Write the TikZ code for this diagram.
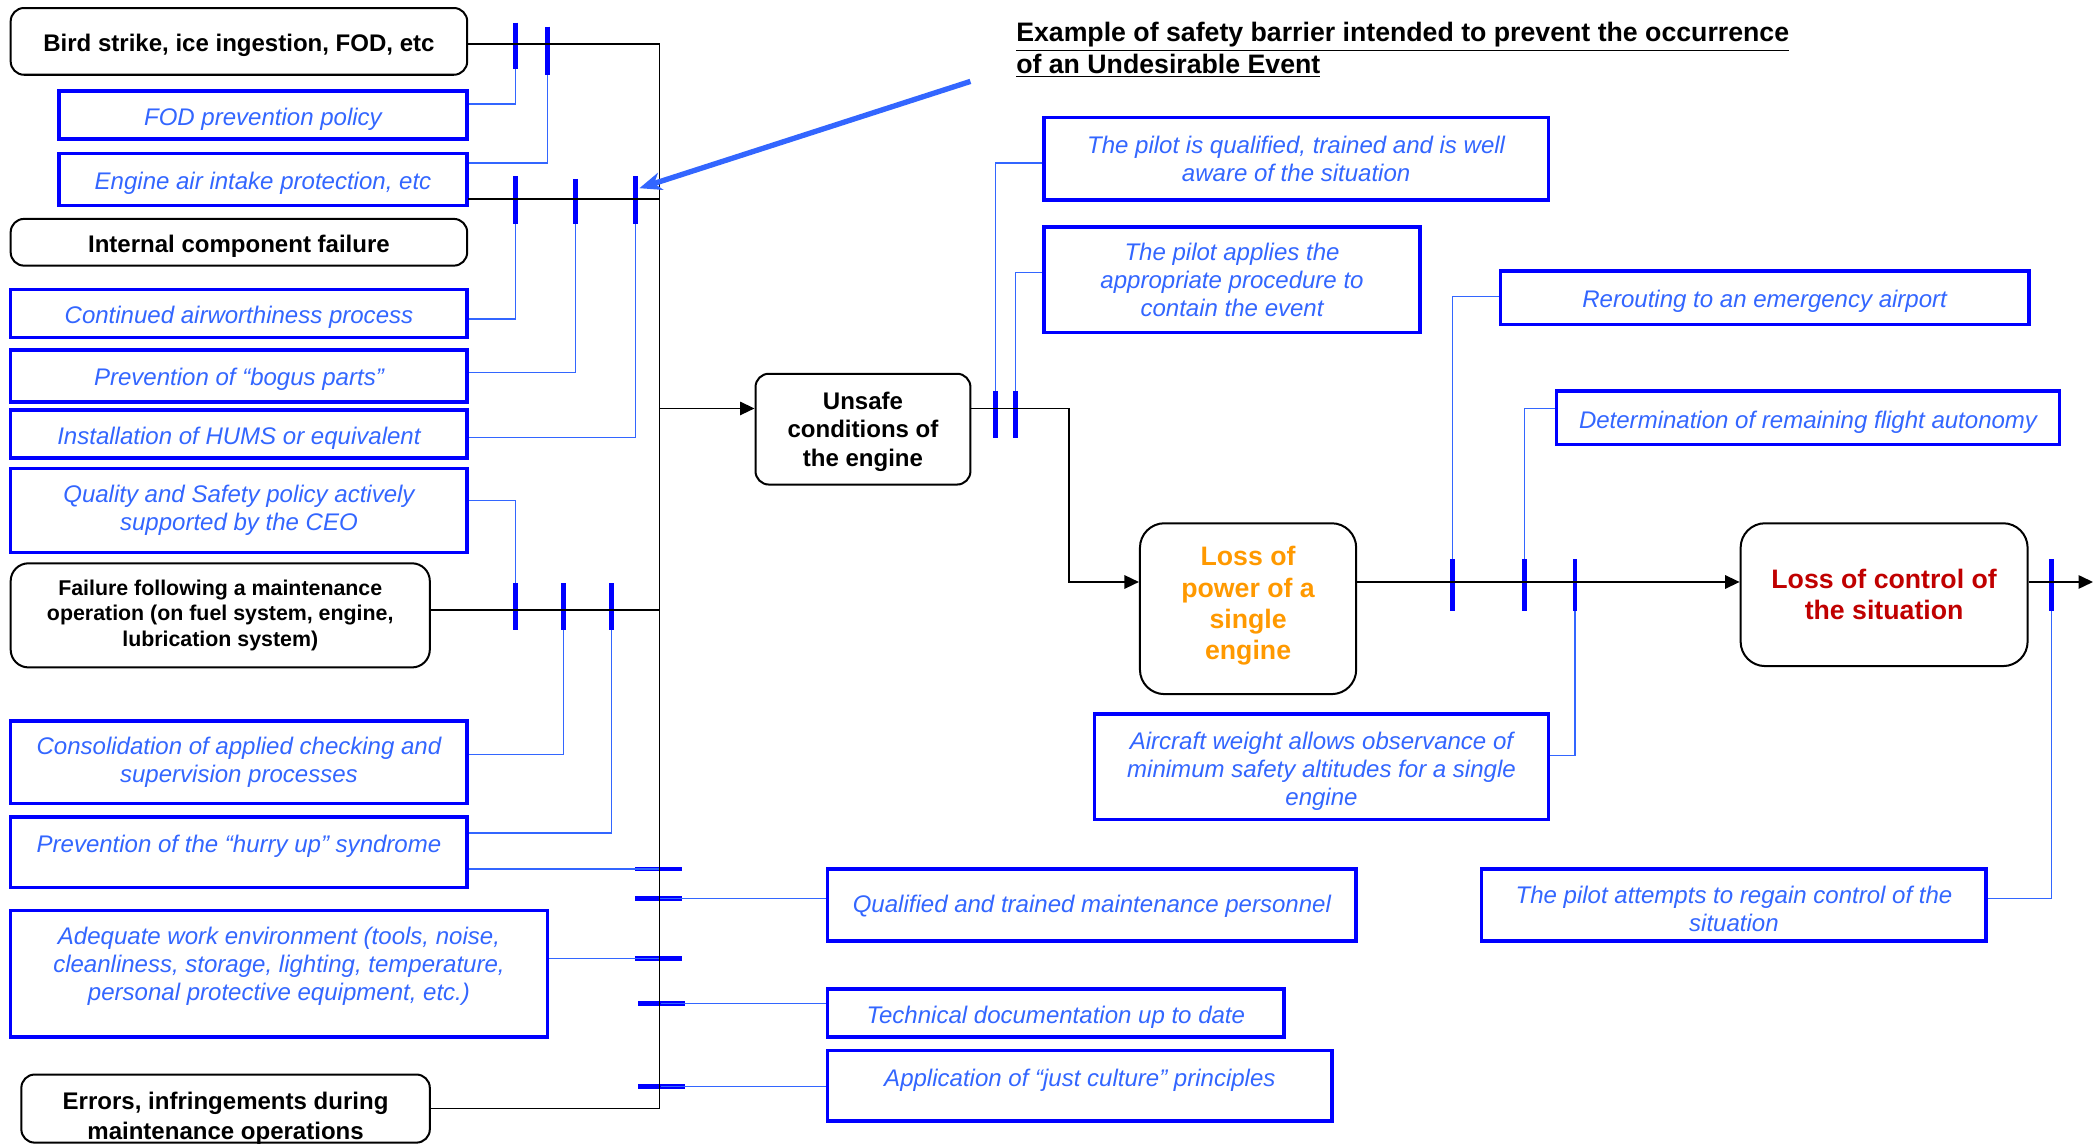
\documentclass[tikz,border=0pt]{standalone}
\usepackage{fontspec}
\setmainfont{Liberation Sans}
\usetikzlibrary{arrows.meta}

\definecolor{barrierblue}{RGB}{0,0,255}
\definecolor{linkblue}{RGB}{51,102,255}
\definecolor{powerorange}{RGB}{255,153,0}
\definecolor{controlred}{RGB}{192,0,0}

\newcommand{\shiftup}[2]{\raisebox{#1}[\height][\depth]{#2}}

\tikzset{
	dims/.style 2 args={minimum width=#1*0.6pt, minimum height=#2*0.6pt},
	event/.style={draw, line width=0.9pt, rounded corners=6pt, inner sep=0pt, align=center,
		font=\fontsize{10.8}{12.6}\selectfont\bfseries},
	barrier/.style={draw=barrierblue, line width=1.6pt, inner sep=0pt, align=center, text=linkblue,
		font=\fontsize{10.8}{12.6}\selectfont\itshape},
	oneline/.style={text height=9.8pt, text depth=0.6pt},
	barline/.style={barrierblue, line width=2.1pt},
	link/.style={linkblue, line width=0.6pt},
	flow/.style={black, line width=0.8pt},
	flowarrow/.style={-{Triangle[length=6.5pt, width=6pt]}}
}

\begin{document}
\begin{tikzpicture}[x=0.6pt, y=-0.6pt]
	\useasboundingbox (0,0) rectangle (1568,858.5);

	% causes and barriers, left column
	\node (bird) [event, oneline, dims={342}{50}] at (179,31) {Bird strike, ice ingestion, FOD, etc};
	\node (fod) [barrier, oneline, dims={306}{36}] at (197,86) {FOD prevention policy};
	\node (intake) [barrier, oneline, dims={306}{39}] at (197,134.5) {Engine air intake protection, etc};
	\node (internal) [event, oneline, dims={342}{35}] at (179,181.5) {Internal component failure};
	\node (airworth) [barrier, oneline, dims={342}{36}] at (179,235) {Continued airworthiness process};
	\node (bogus) [barrier, oneline, dims={342}{39}] at (179,281.5) {Prevention of “bogus parts”};
	\node (hums) [barrier, oneline, dims={342}{36}] at (179,325) {Installation of HUMS or equivalent};
	\node (quality) [barrier, dims={342}{63}] at (179,382.5) {Quality and Safety policy actively\\supported by the CEO};
	\node (failure) [event, rounded corners=8pt, dims={314}{78}, font=\fontsize{9.6}{11.4}\selectfont\bfseries] at (165,461)
		{Failure following a maintenance\\operation (on fuel system, engine,\\lubrication system)};
	\node (consol) [barrier, dims={342}{62}] at (179,571) {Consolidation of applied checking and\\supervision processes};
	\node (hurry) [barrier, oneline, dims={342}{53}] at (179,638.5) {\shiftup{4.5pt}{Prevention of the “hurry up” syndrome}};
	\node (adequate) [barrier, dims={402}{95}] at (209,729.5)
		{\shiftup{3.2pt}{Adequate work environment (tools, noise,}\\\shiftup{3.2pt}{cleanliness, storage, lighting, temperature,}\\\shiftup{3.2pt}{personal protective equipment, etc.)}};
	\node (errors) [event, dims={306}{51}, font=\fontsize{10.8}{13.5}\selectfont\bfseries] at (169,830.5)
		{\shiftup{-4.5pt}{Errors, infringements during}\\\shiftup{-4.5pt}{maintenance operations}};

	% barriers right of the bus
	\node (qualified) [barrier, oneline, dims={396}{54}] at (818,678) {\shiftup{1.2pt}{Qualified and trained maintenance personnel}};
	\node (techdoc) [barrier, oneline, dims={342}{36}] at (791,759) {Technical documentation up to date};
	\node (justcult) [barrier, oneline, dims={378}{53}] at (809,813.5) {\shiftup{4.5pt}{Application of “just culture” principles}};

	% events and recovery barriers
	\node (title) [anchor=west, inner sep=0pt, align=left, font=\fontsize{12}{14.4}\selectfont\bfseries] at (761,37.5)
		{\underline{Example of safety barrier intended to prevent the occurrence}\\\underline{of an Undesirable Event}};
	\node (unsafe) [event, dims={161}{83}] at (646.5,321.5) {\shiftup{-1.2pt}{Unsafe}\\\shiftup{-1.2pt}{conditions of}\\\shiftup{-1.2pt}{the engine}};
	\node (pilotqual) [barrier, dims={378}{62}] at (971,119) {The pilot is qualified, trained and is well\\aware of the situation};
	\node (pilotproc) [barrier, dims={282}{79}] at (923,209.5) {The pilot applies the\\appropriate procedure to\\contain the event};
	\node (power) [event, rounded corners=11pt, dims={162}{128}, text=powerorange, font=\fontsize{12}{14.1}\selectfont\bfseries] at (935,456)
		{\shiftup{1.2pt}{Loss of}\\\shiftup{1.2pt}{power of a}\\\shiftup{1.2pt}{single}\\\shiftup{1.2pt}{engine}};
	\node (reroute) [barrier, oneline, dims={396}{40}] at (1322,223) {Rerouting to an emergency airport};
	\node (autonomy) [barrier, oneline, dims={377}{40}] at (1354.5,313) {Determination of remaining flight autonomy};
	\node (weight) [barrier, dims={340}{79}] at (990,574.5)
		{\shiftup{-1.8pt}{Aircraft weight allows observance of}\\\shiftup{-1.8pt}{minimum safety altitudes for a single}\\\shiftup{-1.8pt}{engine}};
	\node (control) [event, rounded corners=11pt, dims={215}{107}, text=controlred, font=\fontsize{12}{14.1}\selectfont\bfseries] at (1411.5,445.5)
		{Loss of control of\\the situation};
	\node (regain) [barrier, dims={378}{54}] at (1299,678)
		{\shiftup{-1.8pt}{The pilot attempts to regain control of the}\\\shiftup{-1.8pt}{situation}};

	% barrier marks
	\draw[barline] (386,17) -- (386,52) coordinate (fodbar);
	\draw[barline] (410,20) -- (410,56) coordinate (intakebar);
	\draw[barline] (386,132) -- (386,168) coordinate (awbar);
	\draw[barline] (431,134) -- (431,168) coordinate (bogusbar);
	\draw[barline] (476,132) -- (476,168) coordinate (humsbar);
	\draw[barline] (386,437) coordinate (qualbar) -- (386,472);
	\draw[barline] (422,437) -- (422,472) coordinate (consolbar);
	\draw[barline] (458,437) -- (458,472) coordinate (hurrybar);
	\draw[barline] (476,651) -- coordinate (hurrybus) (511,651);
	\draw[barline] (476,673) -- coordinate (staffbar) (511,673);
	\draw[barline] (476,718) -- coordinate (envbar) (511,718);
	\draw[barline] (478,752) -- coordinate (docbar) (513,752);
	\draw[barline] (478,814) -- coordinate (culturebar) (513,814);
	\draw[barline] (746,293) coordinate (pqbar) -- (746,328);
	\draw[barline] (761,293) coordinate (ppbar) -- (761,328);
	\draw[barline] (1088,419) coordinate (rrbar) -- (1088,458);
	\draw[barline] (1142,419) coordinate (aubar) -- (1142,458);
	\draw[barline] (1180,419) -- (1180,458) coordinate (wtbar);
	\draw[barline] (1537,419) -- (1537,458) coordinate (rgbar);

	% links from barriers
	\draw[link] (fod.east) ++(0,-8) -| (fodbar);
	\draw[link] (intake.east) ++(0,-12.5) -| (intakebar);
	\draw[link] (airworth.east) ++(0,4) -| (awbar);
	\draw[link] (bogus.east) ++(0,-2.5) -| (bogusbar);
	\draw[link] (hums.east) ++(0,3) -| (humsbar);
	\draw[link] (quality.east) ++(0,-7.5) -| (qualbar);
	\draw[link] (consol.east) ++(0,-6) -| (consolbar);
	\draw[link] (hurry.east) ++(0,-14.5) -| (hurrybar);
	\draw[link] (hurry.east) ++(0,12.5) -- (hurrybus);
	\draw[link] (adequate.east) ++(0,-11.5) -- (envbar);
	\draw[link] (staffbar) -- (staffbar -| qualified.west);
	\draw[link] (docbar) -- (docbar -| techdoc.west);
	\draw[link] (culturebar) -- (culturebar -| justcult.west);
	\draw[link] (pilotqual.west) ++(0,3) -| (pqbar);
	\draw[link] (pilotproc.west) ++(0,-5.5) -| (ppbar);
	\draw[link] (reroute.west) ++(0,-1) -| (rrbar);
	\draw[link] (autonomy.west) ++(0,-7) -| (aubar);
	\draw[link] (weight.east) ++(0,-8.5) -| (wtbar);
	\draw[link] (regain.east) ++(0,-5) -| (rgbar);

	% event sequence
	\coordinate (busTop) at (494,33);
	\coordinate (busBot) at (busTop |- errors.east);
	\coordinate (exit) at (1568,436);
	\path (unsafe.west) ++(0,-15.5) coordinate (uin);
	\path (power.west) ++(0,-20) coordinate (pin);

	\draw[flow] (bird.east) ++(0,2) -- (busTop) -- (busBot) -- (errors.east);
	\draw[flow] (internal.north east) ++(0,-14) coordinate (icf) -- (icf -| busTop);
	\draw[flow] (failure.east) ++(0,-4) coordinate (ffm) -- (ffm -| busTop);
	\draw[flow, flowarrow] (uin -| busTop) -- (uin);
	\draw[flow, flowarrow] (unsafe.east) ++(0,-15.5) -- ++(73,0) |- (pin);
	\draw[flow, flowarrow] (power.east) ++(0,-20) coordinate (pout) -- (pout -| control.west);
	\draw[flow, flowarrow] (control.east) ++(0,-9.5) -- (exit);

	% pointer from the title
	\coordinate (hintstart) at (727,61);
	\coordinate (hintend) at (479,141);
	\draw[linkblue, line width=2.4pt, -{Stealth[length=10pt, width=8pt, inset=3pt]}] (hintstart) -- (hintend);

\end{tikzpicture}
\end{document}
